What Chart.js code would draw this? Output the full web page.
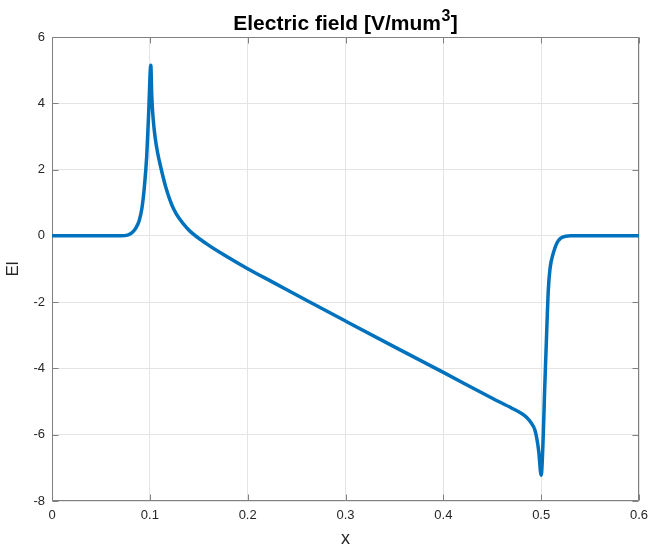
<!DOCTYPE html>
<html>
<head>
<meta charset="utf-8">
<script src="https://cdn.jsdelivr.net/npm/chart.js@4.4.1/dist/chart.umd.min.js"></script>
<style>
  html, body { margin: 0; padding: 0; background: #ffffff; }
  canvas { display: block; }
</style>
</head>
<body>
<canvas id="c" width="651" height="546"></canvas>
<script>
// ---- data ----
const xValues = [0, 0.05, 0.07, 0.078, 0.082, 0.086, 0.089, 0.092, 0.0945, 0.0968, 0.0988, 0.101,
  0.102, 0.1035, 0.1055, 0.108, 0.1108, 0.116, 0.1245, 0.1381, 0.1585, 0.179, 0.2, 0.2265, 0.2605,
  0.3, 0.35, 0.4, 0.45, 0.47, 0.48, 0.485, 0.49, 0.4935, 0.4956, 0.4975, 0.5,
  0.5022, 0.5035, 0.505, 0.506, 0.5073, 0.509, 0.5124, 0.516, 0.52, 0.525, 0.53, 0.6];
const yValues = [0, 0, 0, 0.03, 0.1, 0.25, 0.45, 0.85, 1.5, 2.4, 3.7, 5.15,
  4.2, 3.5, 2.95, 2.5, 2.12, 1.5, 0.8, 0.23, -0.25, -0.63, -0.99, -1.41, -1.95,
  -2.57, -3.35, -4.12, -4.9, -5.2, -5.36, -5.47, -5.65, -5.85, -6.12, -6.5, -7.22,
  -5.98, -4.7, -3.45, -2.6, -1.64, -1.0, -0.52, -0.22, -0.07, -0.01, 0, 0];
const xTicks = [0, 0.1, 0.2, 0.3, 0.4, 0.5, 0.6];
const xTickLabels = ['0', '0.1', '0.2', '0.3', '0.4', '0.5', '0.6'];
const yTicks = [-8, -6, -4, -2, 0, 2, 4, 6];
const yTickLabels = ['-8', '-6', '-4', '-2', '0', '2', '4', '6'];
const titleMain = 'Electric field [V/mum';
const titleSup = '3';
const titleEnd = ']';
const xLabel = 'x';
const yLabel = 'El';

const FONT = '"Liberation Sans", Arial, Helvetica, sans-serif';
const TEXT = '#262626';
const AXIS = '#808080';

const points = xValues.map((x, i) => ({ x: x, y: yValues[i] }));

const matlabAxes = {
  id: 'matlabAxes',
  beforeDatasetsDraw(chart) {
    const { ctx, chartArea: a, scales } = chart;
    ctx.save();
    ctx.strokeStyle = AXIS;
    ctx.lineWidth = 1;
    const L = Math.round(a.left) + 0.5, R = Math.round(a.right) - 0.5;
    const T = Math.round(a.top) + 0.5, B = Math.round(a.bottom) - 0.5;
    ctx.beginPath();
    ctx.rect(L, T, R - L, B - T);
    ctx.stroke();
    const tl = 6;
    ctx.beginPath();
    xTicks.forEach(v => {
      const px = Math.round(scales.x.getPixelForValue(v)) + 0.5;
      ctx.moveTo(px, B); ctx.lineTo(px, B - tl);
      ctx.moveTo(px, T); ctx.lineTo(px, T + tl);
    });
    yTicks.forEach(v => {
      const py = Math.round(scales.y.getPixelForValue(v)) + 0.5;
      ctx.moveTo(L, py); ctx.lineTo(L + tl, py);
      ctx.moveTo(R, py); ctx.lineTo(R - tl, py);
    });
    ctx.stroke();
    ctx.restore();
  },
  afterDraw(chart) {
    const { ctx, chartArea: a } = chart;
    ctx.save();
    ctx.fillStyle = '#000000';
    ctx.textBaseline = 'alphabetic';
    const fMain = 'bold 21px ' + FONT;
    const fSup = 'bold 16px ' + FONT;
    ctx.font = fMain;
    const w1 = ctx.measureText(titleMain).width;
    const w3 = ctx.measureText(titleEnd).width;
    ctx.font = fSup;
    const w2 = ctx.measureText(titleSup).width;
    const total = w1 + w2 + w3 + 1;
    let x = (a.left + a.right) / 2 - total / 2;
    const base = 30;
    ctx.textAlign = 'left';
    ctx.font = fMain;
    ctx.fillText(titleMain, x, base);
    x += w1 + 0.5;
    ctx.font = fSup;
    ctx.fillText(titleSup, x, base - 9);
    x += w2 + 0.5;
    ctx.font = fMain;
    ctx.fillText(titleEnd, x, base);
    ctx.restore();
  }
};

new Chart(document.getElementById('c'), {
  type: 'line',
  data: {
    datasets: [{
      data: points,
      borderColor: '#0072BD',
      borderWidth: 3.5,
      pointRadius: 0,
      fill: false,
      cubicInterpolationMode: 'monotone',
      borderJoinStyle: 'round',
      borderCapStyle: 'round'
    }]
  },
  options: {
    responsive: false,
    animation: false,
    events: [],
    parsing: false,
    layout: { padding: { top: 37, right: 12, left: 0, bottom: 0 } },
    plugins: {
      legend: { display: false },
      title: { display: false },
      tooltip: { enabled: false }
    },
    scales: {
      x: {
        type: 'linear',
        min: 0, max: 0.6,
        afterBuildTicks: s => { s.ticks = xTicks.map(v => ({ value: v })); },
        afterFit: s => { s.height = 45; s.paddingLeft = 0; s.paddingRight = 0; },
        border: { display: false },
        grid: { color: '#e4e4e4', lineWidth: 1, drawTicks: false },
        ticks: {
          padding: 7,
          color: TEXT,
          font: { family: FONT, size: 13 },
          maxRotation: 0,
          autoSkip: false,
          callback: (v) => { const i = xTicks.indexOf(v); return i >= 0 ? xTickLabels[i] : ''; }
        },
        title: {
          display: true, text: xLabel, color: TEXT,
          font: { family: FONT, size: 18, lineHeight: 0.8 },
          padding: { top: 0, bottom: 0 }
        }
      },
      y: {
        type: 'linear',
        min: -8, max: 6,
        afterBuildTicks: s => { s.ticks = yTicks.map(v => ({ value: v })); },
        afterFit: s => { s.width = 52; s.paddingTop = 0; s.paddingBottom = 0; },
        border: { display: false },
        grid: { color: '#e4e4e4', lineWidth: 1, drawTicks: false },
        ticks: {
          padding: 7,
          color: TEXT,
          font: { family: FONT, size: 13 },
          autoSkip: false,
          callback: (v) => { const i = yTicks.indexOf(v); return i >= 0 ? yTickLabels[i] : ''; }
        },
        title: {
          display: true, text: yLabel, color: TEXT,
          font: { family: FONT, size: 17 },
          padding: { top: 3, bottom: 0 }
        }
      }
    }
  },
  plugins: [matlabAxes]
});
</script>
</body>
</html>
